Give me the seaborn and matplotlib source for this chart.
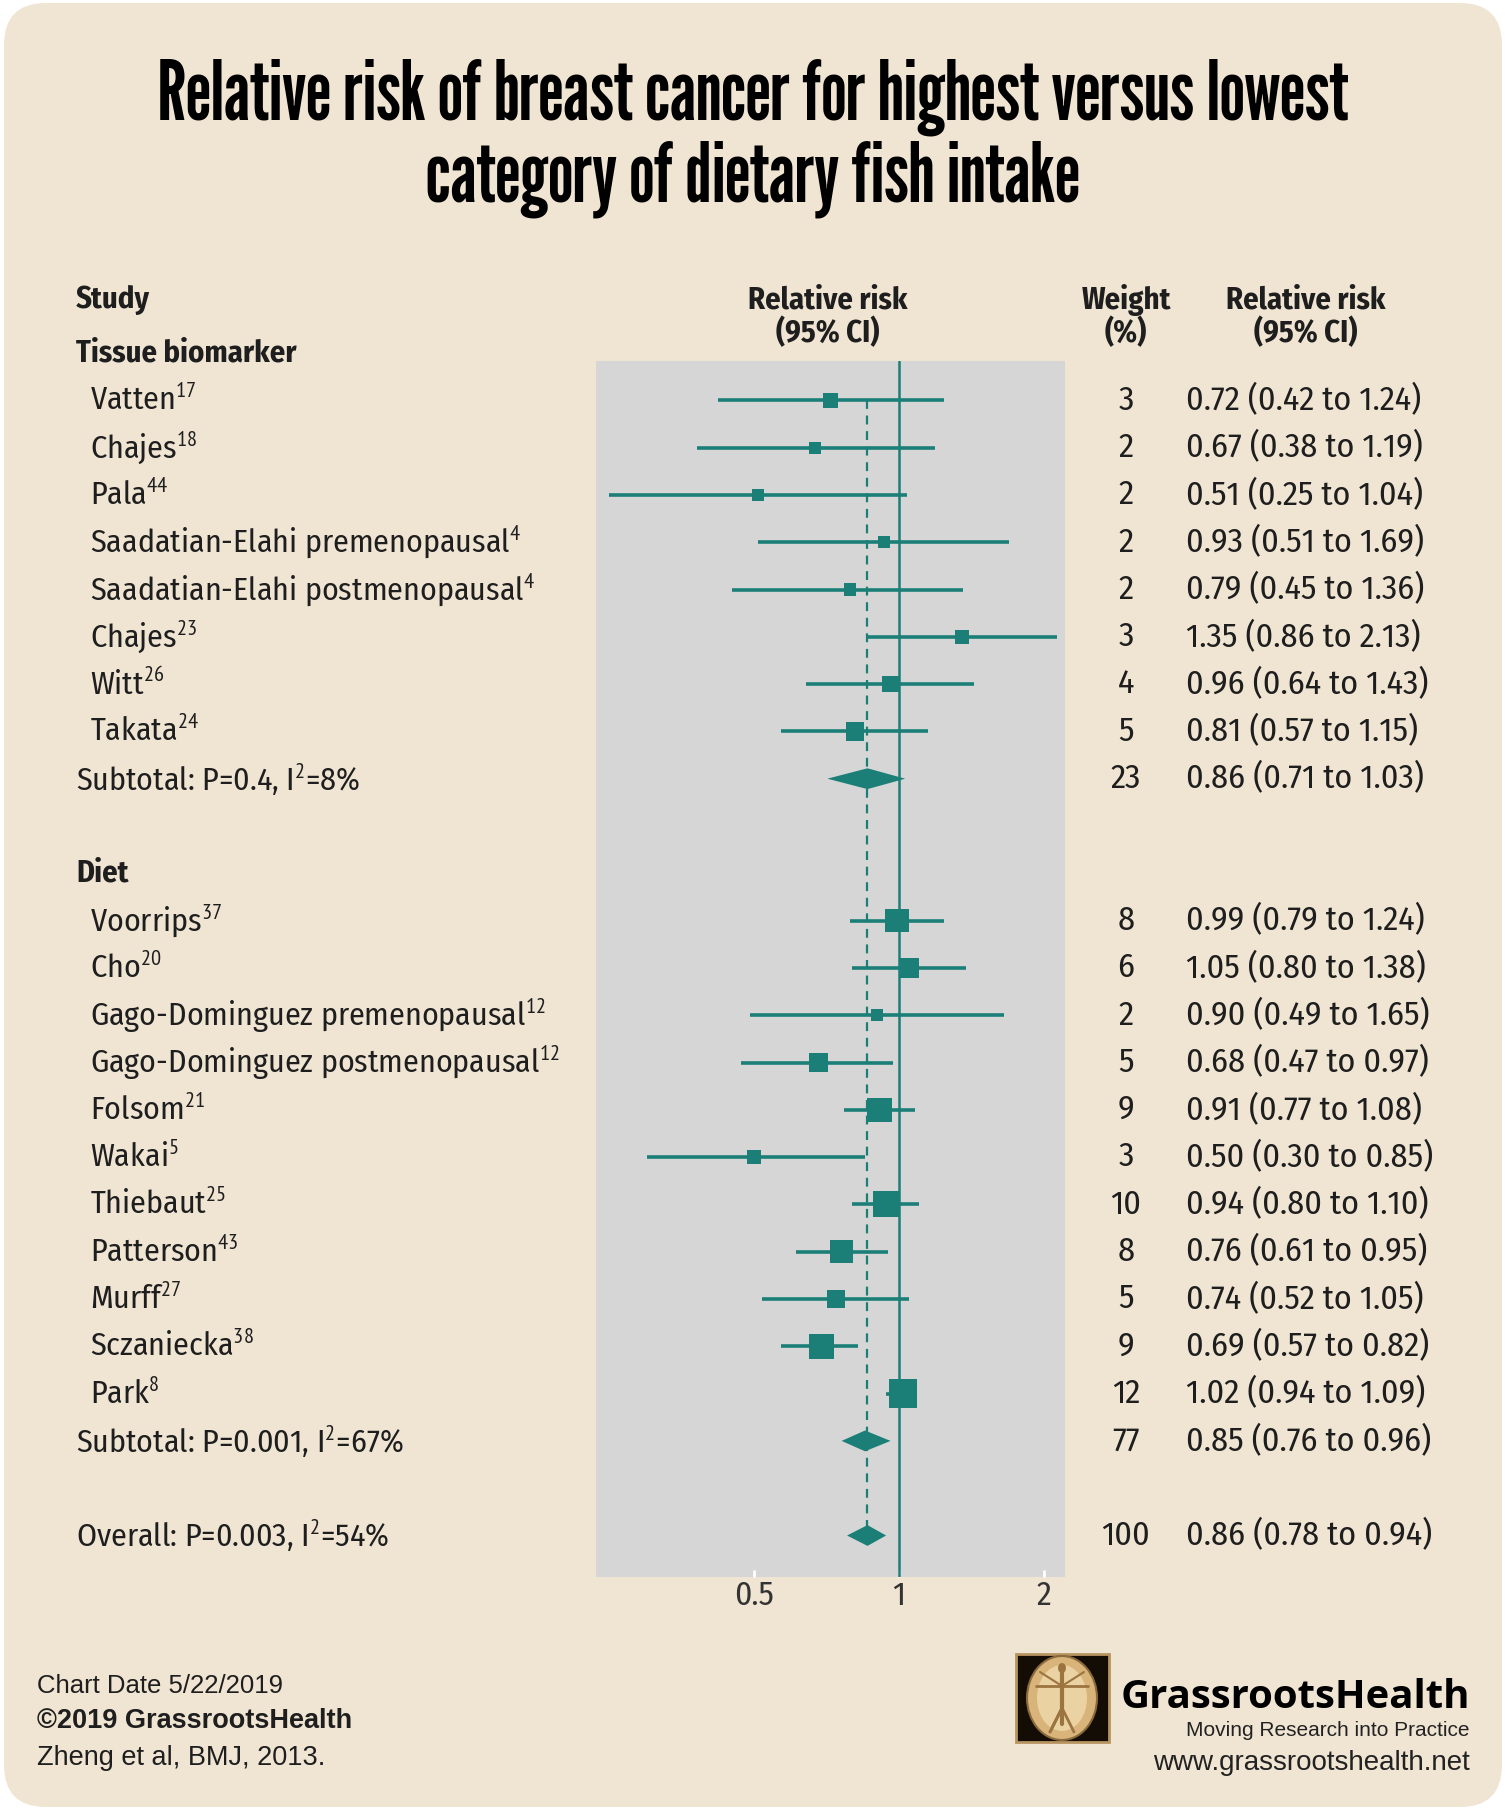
import matplotlib
matplotlib.use('Agg')
import matplotlib.pyplot as plt
import matplotlib.transforms as mtransforms
from matplotlib.patches import FancyBboxPatch, Rectangle, Ellipse
import seaborn as sns
import pandas as pd

# ==========================================
# DATA
# ==========================================
tissue_names = ['Vatten', 'Chajes', 'Pala', 'Saadatian-Elahi premenopausal',
                'Saadatian-Elahi postmenopausal', 'Chajes', 'Witt', 'Takata']
tissue_refs = ['17', '18', '44', '4', '4', '23', '26', '24']
tissue_rr = [0.72, 0.67, 0.51, 0.93, 0.79, 1.35, 0.96, 0.81]
tissue_lo = [0.42, 0.38, 0.25, 0.51, 0.45, 0.86, 0.64, 0.57]
tissue_hi = [1.24, 1.19, 1.04, 1.69, 1.36, 2.13, 1.43, 1.15]
tissue_w = [3, 2, 2, 2, 2, 3, 4, 5]

diet_names = ['Voorrips', 'Cho', 'Gago-Dominguez premenopausal',
              'Gago-Dominguez postmenopausal', 'Folsom', 'Wakai', 'Thiebaut',
              'Patterson', 'Murff', 'Sczaniecka', 'Park']
diet_refs = ['37', '20', '12', '12', '21', '5', '25', '43', '27', '38', '8']
diet_rr = [0.99, 1.05, 0.90, 0.68, 0.91, 0.50, 0.94, 0.76, 0.74, 0.69, 1.02]
diet_lo = [0.79, 0.80, 0.49, 0.47, 0.77, 0.30, 0.80, 0.61, 0.52, 0.57, 0.94]
diet_hi = [1.24, 1.38, 1.65, 0.97, 1.08, 0.85, 1.10, 0.95, 1.05, 0.82, 1.09]
diet_w = [8, 6, 2, 5, 9, 3, 10, 8, 5, 9, 12]

pooled_labels = [r'Subtotal: P=0.4, I$^{\mathrm{2}}$=8%',
                 r'Subtotal: P=0.001, I$^{\mathrm{2}}$=67%',
                 r'Overall: P=0.003, I$^{\mathrm{2}}$=54%']
pooled_rr = [0.86, 0.85, 0.86]
pooled_lo = [0.71, 0.76, 0.78]
pooled_hi = [1.03, 0.96, 0.94]
pooled_w = [23, 77, 100]

x_ticks = [0.5, 1, 2]
x_ticklabels = ['0.5', '1', '2']

# ==========================================
# ROW LAYOUT
# ==========================================
tissue_rows = list(range(1, 1 + len(tissue_names)))
diet_rows = list(range(12, 12 + len(diet_names)))
pooled_rows = [9, 23, 25]

df = pd.DataFrame({
    'study': tissue_names + diet_names,
    'ref': tissue_refs + diet_refs,
    'rr': tissue_rr + diet_rr,
    'lo': tissue_lo + diet_lo,
    'hi': tissue_hi + diet_hi,
    'weight': tissue_w + diet_w,
    'row': tissue_rows + diet_rows,
})

# ==========================================
# STYLE
# ==========================================
sns.set_theme(style='white')
ROWFONT = ['Fira Sans Condensed', 'PT Sans Narrow', 'DejaVu Sans']
TITLEFONT = ['League Gothic', 'Antonio', 'Oswald', 'PT Sans Narrow', 'DejaVu Sans']
LOGOFONT = ['Open Sans', 'DejaVu Sans']
FOOT = ['Liberation Sans', 'DejaVu Sans']
plt.rcParams['font.family'] = ROWFONT
plt.rcParams['mathtext.fontset'] = 'custom'
plt.rcParams['mathtext.rm'] = 'PT Sans Narrow'

TEAL = '#1b7f78'
BEIGE = '#f0e5d3'
PANEL = '#d6d6d6'
INK = '#1e1e1e'

W, H = 1506, 1811
fig = plt.figure(figsize=(W / 100, H / 100), dpi=100)
fig.patch.set_facecolor('white')

# background card in pixel coordinates
bg = fig.add_axes([0, 0, 1, 1], zorder=0)
bg.set_xlim(0, W)
bg.set_ylim(H, 0)
bg.axis('off')
bg.add_patch(FancyBboxPatch((4, 3), W - 8, H - 7,
                            boxstyle='round,pad=0,rounding_size=42',
                            fc=BEIGE, ec='none'))

# gray forest panel
px_l, px_r, px_t, px_b = 596, 1065, 361, 1577
row0, step = 353, 47.3
ax = fig.add_axes([px_l / W, 1 - px_b / H, (px_r - px_l) / W, (px_b - px_t) / H], zorder=1)
ax.set_facecolor(PANEL)
ax.set_xscale('log', base=2)
ax.set_xlim(0.235, 2.21)
ax.set_ylim((px_b - row0) / step, (px_t - row0) / step)

ax.axvline(1, color=TEAL, lw=1.8, zorder=1)
ax.vlines(pooled_rr[2], 1, pooled_rows[2], color=TEAL, lw=1.6,
          linestyles=(0, (4, 3)), zorder=1)

ax.hlines(df['row'], df['lo'], df['hi'], color=TEAL, lw=2.6, zorder=2)
sns.scatterplot(data=df, x='rr', y='row', size='weight', sizes=(75, 415),
                size_norm=(2, 12), marker='s', color=TEAL, edgecolor=TEAL,
                linewidth=0, legend=False, ax=ax, zorder=3)

dh = 0.22
for est, lo, hi, r in zip(pooled_rr, pooled_lo, pooled_hi, pooled_rows):
    ax.fill([lo, est, hi, est], [r, r - dh, r, r + dh], color=TEAL, lw=0, zorder=3)

ax.minorticks_off()
ax.set_xticks(x_ticks)
ax.set_xticklabels(x_ticklabels)
ax.tick_params(axis='x', direction='in', length=5, width=2, color='white',
               labelsize=24, labelcolor='#333333', pad=2, bottom=True)
ax.set_yticks([])
ax.set_xlabel('')
ax.set_ylabel('')
for s in ax.spines.values():
    s.set_visible(False)

# ==========================================
# TEXT COLUMNS
# ==========================================
blend = mtransforms.blended_transform_factory(bg.transData, ax.transData)
FS = 23
FS_NUM = 24.5
x_head, x_name, x_weight, x_rr = 76, 90, 1126, 1186


def put(x, y, s, **kw):
    kw.setdefault('fontsize', FS)
    kw.setdefault('color', INK)
    kw.setdefault('va', 'center')
    return bg.text(x, y, s, transform=blend, clip_on=False, **kw)


put(x_head, -1.12, 'Study', fontweight='bold', fontsize=22)
put(828, -1.12, 'Relative risk', fontweight='bold', ha='center', fontsize=22)
put(828, -0.42, '(95% CI)', fontweight='bold', ha='center', fontsize=22)
put(x_weight, -1.12, 'Weight', fontweight='bold', ha='center', fontsize=22)
put(x_weight, -0.42, '(%)', fontweight='bold', ha='center', fontsize=22)
put(1306, -1.12, 'Relative risk', fontweight='bold', ha='center', fontsize=22)
put(1306, -0.42, '(95% CI)', fontweight='bold', ha='center', fontsize=22)
put(x_head, 0, 'Tissue biomarker', fontweight='bold', fontsize=22)
put(x_head, 11, 'Diet', fontweight='bold', fontsize=22)

for _, r in df.iterrows():
    put(x_name, r['row'], r['study'] + r'$^{\mathrm{' + r['ref'] + '}}$')
    put(x_weight, r['row'], f"{r['weight']}", ha='center', fontsize=FS_NUM)
    put(x_rr, r['row'], f"{r['rr']:.2f} ({r['lo']:.2f} to {r['hi']:.2f})", fontsize=FS_NUM)

for lab, est, lo, hi, w, r in zip(pooled_labels, pooled_rr, pooled_lo, pooled_hi,
                                  pooled_w, pooled_rows):
    put(x_head, r, lab)
    put(x_weight, r, f'{w}', ha='center', fontsize=FS_NUM)
    put(x_rr, r, f'{est:.2f} ({lo:.2f} to {hi:.2f})', fontsize=FS_NUM)

# ==========================================
# TITLE AND FOOTER
# ==========================================
t1 = bg.text(753, 97, 'Relative risk of breast cancer for highest versus lowest',
             ha='center', va='center', fontsize=40, fontweight='bold',
             family=TITLEFONT, color='black')
t2 = bg.text(753, 179, 'category of dietary fish intake',
             ha='center', va='center', fontsize=40, fontweight='bold',
             family=TITLEFONT, color='black')

bg.text(37, 1686, 'Chart Date 5/22/2019', fontsize=18.5, family=FOOT, va='center', color=INK)
bg.text(37, 1721, '\u00a92019 GrassrootsHealth', fontsize=19.5, family=FOOT,
        fontweight='bold', va='center', color=INK)
bg.text(37, 1758, 'Zheng et al, BMJ, 2013.', fontsize=19.5, family=FOOT, va='center', color=INK)

# logo
bg.add_patch(Rectangle((1016, 1654), 93, 88, fc='#140d05', ec='#b89560', lw=2))
bg.add_patch(Ellipse((1062, 1698), 70, 84, fc='#d8b47a', ec='#8a6a3a', lw=1.5))
bg.add_patch(Ellipse((1062, 1698), 50, 66, fc='#ead2a2', ec='none'))
bg.plot([1062, 1062], [1672, 1724], color='#9c7440', lw=3)
bg.plot([1036, 1088], [1686, 1686], color='#9c7440', lw=2)
bg.plot([1040, 1062, 1084], [1672, 1686, 1672], color='#9c7440', lw=1.5)
bg.plot([1062, 1050, 1062, 1074], [1708, 1732, 1708, 1732], color='#9c7440', lw=2)
bg.add_patch(Ellipse((1062, 1668), 8, 10, fc='#9c7440', ec='none'))

t3 = bg.text(1470, 1698, 'GrassrootsHealth', ha='right', va='center', fontsize=30,
             fontweight='bold', family=LOGOFONT, color='black')
t4 = bg.text(1470, 1730, 'Moving Research into Practice', ha='right', va='center',
             fontsize=17, family=FOOT, color='#222222')
bg.text(1470, 1763, 'www.grassrootshealth.net', ha='right', va='center',
        fontsize=20, family=FOOT, color='#222222')

# fit a few texts to the widths measured on the original
fig.canvas.draw()
renderer = fig.canvas.get_renderer()
for t, target in [(t1, 1190), (t3, 350), (t4, 284)]:
    wpx = t.get_window_extent(renderer).width
    t.set_fontsize(t.get_fontsize() * target / wpx)
t2.set_fontsize(t1.get_fontsize())

fig.savefig('out.png', dpi=100, facecolor=fig.get_facecolor())
